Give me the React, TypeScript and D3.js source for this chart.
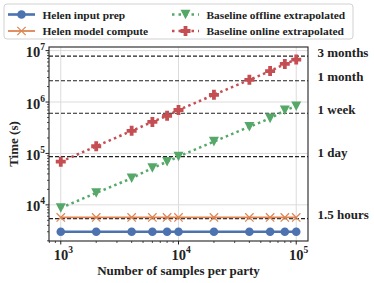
import React from "react";
import * as d3 from "d3";

const samples = [1000, 2000, 4000, 6000, 8000, 10000, 20000, 40000, 60000, 80000, 100000];
const helenInputPrep = [3000, 3000, 3000, 3000, 3000, 3000, 3000, 3000, 3000, 3000, 3000];
const helenModelCompute = [5700, 5700, 5700, 5700, 5700, 5700, 5700, 5700, 5700, 5700, 5700];
const baselineOffline = [8700, 17000, 33000, 52000, 69000, 87000, 170000, 330000, 480000, 690000, 830000];
const baselineOnline = [69000, 138000, 275000, 410000, 540000, 700000, 1380000, 2700000, 4000000, 5500000, 6700000];

const refLines = [
  { value: 7776000, label: "3 months" },
  { value: 2592000, label: "1 month" },
  { value: 604800, label: "1 week" },
  { value: 86400, label: "1 day" },
  { value: 5400, label: "1.5 hours" },
];

const xTickExps = [3, 4, 5];
const yTickExps = [4, 5, 6, 7];

const C_BLUE = "#4C72B0";
const C_ORANGE = "#DD8452";
const C_GREEN = "#55A868";
const C_RED = "#C44E52";
const FONT = "'Liberation Serif', 'Times New Roman', serif";

const L = 49, R = 308, T = 47, B = 241;

function Circle({ x, y }: { x: number; y: number }) {
  return <circle cx={x} cy={y} r={4.3} fill={C_BLUE} />;
}
function XMark({ x, y }: { x: number; y: number }) {
  const s = 4.2;
  return (
    <path d={`M${x - s},${y - s}L${x + s},${y + s}M${x - s},${y + s}L${x + s},${y - s}`} stroke={C_ORANGE} strokeWidth={1.2} fill="none" />
  );
}
function TriDown({ x, y }: { x: number; y: number }) {
  const w = 5, h = 4.8;
  return <path d={`M${x - w},${y - h}L${x + w},${y - h}L${x},${y + h}Z`} fill={C_GREEN} />;
}
function PlusFilled({ x, y }: { x: number; y: number }) {
  const a = 5, t = 1.9;
  return (
    <path
      d={`M${x - t},${y - a}H${x + t}V${y - t}H${x + a}V${y + t}H${x + t}V${y + a}H${x - t}V${y + t}H${x - a}V${y - t}H${x - t}Z`}
      fill={C_RED}
    />
  );
}

export default function App() {
  const x = d3.scaleLog().domain([Math.pow(10, 2.9), Math.pow(10, 5.1)]).range([L, R]);
  const y = d3.scaleLog().domain([Math.pow(10, 3.297), Math.pow(10, 7.07)]).range([B, T]);

  const line = (vals: number[]) =>
    d3.line<number>().x((_, i) => x(samples[i])).y((v) => y(v))(vals) || "";

  const xMinor: number[] = [];
  for (let e = 2; e <= 5; e++) for (let m = 1; m <= 9; m++) {
    const v = m * Math.pow(10, e);
    if (x(v) >= L - 0.01 && x(v) <= R + 0.01 && m !== 1) xMinor.push(v);
  }
  const yMinor: number[] = [];
  for (let e = 3; e <= 7; e++) for (let m = 2; m <= 9; m++) {
    const v = m * Math.pow(10, e);
    if (y(v) <= B + 0.01 && y(v) >= T - 0.01) yMinor.push(v);
  }

  const legendItems = [
    { label: "Helen input prep", col: 0, row: 0, kind: "blue" },
    { label: "Helen model compute", col: 0, row: 1, kind: "orange" },
    { label: "Baseline offline extrapolated", col: 1, row: 0, kind: "green" },
    { label: "Baseline online extrapolated", col: 1, row: 1, kind: "red" },
  ];
  const colX = [8, 172];
  const rowY = [14.5, 31];

  return (
    <svg width={374} height={283} style={{ position: "absolute", left: 0, top: 0, background: "#fff" }}>
      <rect x={0} y={0} width={374} height={283} fill="#fff" />
      {/* grid */}
      {xTickExps.map((e) => (
        <line key={"gx" + e} x1={x(Math.pow(10, e))} x2={x(Math.pow(10, e))} y1={T} y2={B} stroke="#dcdcdc" strokeWidth={1} />
      ))}
      {yTickExps.map((e) => (
        <line key={"gy" + e} x1={L} x2={R} y1={y(Math.pow(10, e))} y2={y(Math.pow(10, e))} stroke="#dcdcdc" strokeWidth={1} />
      ))}
      {/* reference dashed lines */}
      {refLines.map((r) => (
        <line key={r.label} x1={L} x2={R} y1={y(r.value)} y2={y(r.value)} stroke="#222" strokeWidth={1.2} strokeDasharray="4 2" />
      ))}
      {refLines.map((r) => (
        <text key={"t" + r.label} x={317.5} y={y(r.value) + 0.5} fontFamily={FONT} fontWeight="bold" fontSize={13} fill="#222">
          {r.label}
        </text>
      ))}
      {/* series */}
      <path d={line(helenInputPrep)} stroke={C_BLUE} strokeWidth={2.6} fill="none" />
      {samples.map((s, i) => <Circle key={"b" + i} x={x(s)} y={y(helenInputPrep[i])} />)}
      <path d={line(helenModelCompute)} stroke={C_ORANGE} strokeWidth={1.8} fill="none" />
      {samples.map((s, i) => <XMark key={"o" + i} x={x(s)} y={y(helenModelCompute[i])} />)}
      <path d={line(baselineOffline)} stroke={C_GREEN} strokeWidth={2.5} fill="none" strokeDasharray="2.5 3.3" />
      {samples.map((s, i) => <TriDown key={"g" + i} x={x(s)} y={y(baselineOffline[i])} />)}
      <path d={line(baselineOnline)} stroke={C_RED} strokeWidth={2.5} fill="none" strokeDasharray="2.5 3.3" />
      {samples.map((s, i) => <PlusFilled key={"r" + i} x={x(s)} y={y(baselineOnline[i])} />)}
      {/* frame */}
      <rect x={L} y={T} width={R - L} height={B - T} fill="none" stroke="#222" strokeWidth={1.1} />
      {/* x ticks */}
      {xTickExps.map((e) => (
        <g key={"xt" + e}>
          <line x1={x(Math.pow(10, e))} x2={x(Math.pow(10, e))} y1={B} y2={B + 3.5} stroke="#222" strokeWidth={1} />
          <text x={x(Math.pow(10, e)) + 2.5} y={259.5} textAnchor="middle" fontFamily={FONT} fontWeight="bold" fontSize={14.5} fill="#222">
            10<tspan dy={-7} fontSize={9.5}>{e}</tspan>
          </text>
        </g>
      ))}
      {xMinor.map((v, i) => (
        <line key={"xm" + i} x1={x(v)} x2={x(v)} y1={B} y2={B + 2} stroke="#222" strokeWidth={0.8} />
      ))}
      {/* y ticks */}
      {yTickExps.map((e) => (
        <g key={"yt" + e}>
          <line x1={L - 3.5} x2={L} y1={y(Math.pow(10, e))} y2={y(Math.pow(10, e))} stroke="#222" strokeWidth={1} />
          <text x={45} y={y(Math.pow(10, e)) + 6.5} textAnchor="end" fontFamily={FONT} fontWeight="bold" fontSize={14.5} fill="#222">
            10<tspan dy={-7} fontSize={9.5}>{e}</tspan>
          </text>
        </g>
      ))}
      {yMinor.map((v, i) => (
        <line key={"ym" + i} x1={L - 2} x2={L} y1={y(v)} y2={y(v)} stroke="#222" strokeWidth={0.8} />
      ))}
      {/* axis labels */}
      <text x={(L + R) / 2} y={275} textAnchor="middle" fontFamily={FONT} fontWeight="bold" fontSize={13} fill="#222">
        Number of samples per party
      </text>
      <text transform={`translate(17.5,${(T + B) / 2}) rotate(-90)`} textAnchor="middle" fontFamily={FONT} fontWeight="bold" fontSize={13} fill="#222">
        Time (s)
      </text>
      {/* legend */}
      <rect x={4} y={4} width={349} height={35} rx={3} fill="#fff" stroke="#cccccc" strokeWidth={0.9} />
      {legendItems.map((it) => {
        const x0 = colX[it.col];
        const yy = rowY[it.row];
        const mx = x0 + 13.5;
        let handle: React.ReactNode = null;
        if (it.kind === "blue") {
          handle = (
            <g>
              <line x1={x0} x2={x0 + 27} y1={yy} y2={yy} stroke={C_BLUE} strokeWidth={2.6} />
              <Circle x={mx} y={yy} />
            </g>
          );
        } else if (it.kind === "orange") {
          handle = (
            <g>
              <line x1={x0} x2={x0 + 27} y1={yy} y2={yy} stroke={C_ORANGE} strokeWidth={1.8} />
              <XMark x={mx} y={yy} />
            </g>
          );
        } else if (it.kind === "green") {
          handle = (
            <g>
              <line x1={x0} x2={x0 + 27} y1={yy} y2={yy} stroke={C_GREEN} strokeWidth={2.5} strokeDasharray="2.5 4" />
              <TriDown x={mx} y={yy} />
            </g>
          );
        } else {
          handle = (
            <g>
              <line x1={x0} x2={x0 + 27} y1={yy} y2={yy} stroke={C_RED} strokeWidth={2.5} strokeDasharray="2.5 4" />
              <PlusFilled x={mx} y={yy} />
            </g>
          );
        }
        return (
          <g key={it.label}>
            {handle}
            <text x={x0 + 34.5} y={yy + 4} fontFamily={FONT} fontWeight="bold" fontSize={11.4} fill="#222">
              {it.label}
            </text>
          </g>
        );
      })}
    </svg>
  );
}
